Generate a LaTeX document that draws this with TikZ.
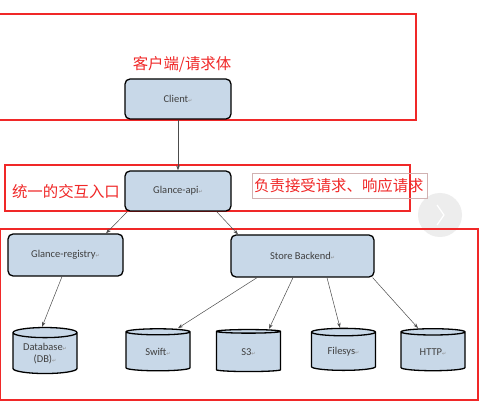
\documentclass[tikz,border=0pt]{standalone}
\usepackage{fontspec}
\setmainfont{Carlito}
\newfontfamily\cjk{Noto Sans CJK SC}
\newfontfamily\djv{DejaVu Sans}
\usetikzlibrary{shapes.geometric,arrows.meta}
\definecolor{boxblue}{RGB}{200,216,232}
\definecolor{redline}{RGB}{240,40,40}
\tikzset{
  x=1pt,y=-1pt,
  redframe/.style={draw=redline,line width=1.1pt},
  redtxt/.style={text=redline,font=\cjk\fontsize{15.4}{15}\selectfont,inner sep=0pt},
  srvbox/.style={draw=black,line width=1.3pt,fill=boxblue,rounded corners=5pt,font=\fontsize{10.5}{11}\selectfont,text=black!75},
  store/.style={cylinder,shape border rotate=90,aspect=0.22,draw=black,line width=1.3pt,fill=boxblue,font=\fontsize{10.5}{11}\selectfont,text=black!75,minimum width=64pt,minimum height=42pt,inner sep=1pt},
  link/.style={draw=black!70,line width=0.5pt,-{Stealth[length=5pt,width=3.5pt]}},
}
\newcommand{\parmark}{{\djv\fontsize{5}{5}\selectfont\color{black!45}↵}}
\begin{document}
\begin{tikzpicture}
\useasboundingbox[fill=white] (0,0) rectangle (483,404);
% nav button artifact
\fill[black!7] (440,215) circle (22);
\draw[white,line width=1.2pt] (437,205) -- (444,215) -- (437,225);
% red frames
\draw[redframe] (-3,14) rectangle (416,120);
\draw[redframe] (5,165) rectangle (410,211);
\draw[redframe] (0,229) rectangle (478,400);
% texts
\node[redtxt] (t1) at (182,64) {客户端/请求体};
\node[redtxt] (t2) at (66,192) {统一的交互入口};
\node[draw=red!40!black!30,line width=0.5pt,minimum width=175pt,minimum height=25pt,inner sep=0pt] (t3box) at (339.5,185.5) {};
\node[redtxt,anchor=west] (t3) at (254,185.5) {负责接受请求、响应请求};
% boxes
\node[srvbox,minimum width=106pt,minimum height=40pt] (client) at (178,99) {Client\parmark};
\node[srvbox,minimum width=106pt,minimum height=40pt] (api) at (178,191) {Glance-api\parmark};
\node[srvbox,minimum width=115pt,minimum height=42pt] (reg) at (65.5,255) {Glance-registry\parmark};
\node[srvbox,minimum width=143pt,minimum height=42pt] (sb) at (302.5,256) {Store Backend\parmark};
% cylinders
\node[store,minimum height=46pt] (db) at (45,354) {\begin{tabular}{@{}c@{}}Database\parmark\\[1pt](DB)\parmark\end{tabular}};
\node[store] (swift) at (158,352) {Swift\parmark};
\node[store] (s3) at (248.5,352) {S3\parmark};
\node[store] (fs) at (343.5,352) {Filesys\parmark};
\node[store] (http) at (433,352) {HTTP\parmark};
% connectors
\draw[link] (client) -- (api);
\draw[link] ([xshift=3pt]api.south west) -- ([xshift=40.5pt]reg.north);
\draw[link] ([xshift=-15pt]api.south east) -- ([xshift=-64.5pt]sb.north);
\draw[link] ([xshift=-3.5pt]reg.south) -- ([xshift=-3pt]db.north);
\draw[link] ([xshift=-45.5pt]sb.south) -- ([xshift=20pt]swift.north);
\draw[link] ([xshift=-9.5pt]sb.south) -- ([xshift=20.5pt]s3.north);
\draw[link] ([xshift=24.5pt]sb.south) -- ([xshift=-3.5pt]fs.north);
\draw[link] ([xshift=-2pt]sb.south east) -- ([xshift=-15pt]http.north);
\end{tikzpicture}
\end{document}
